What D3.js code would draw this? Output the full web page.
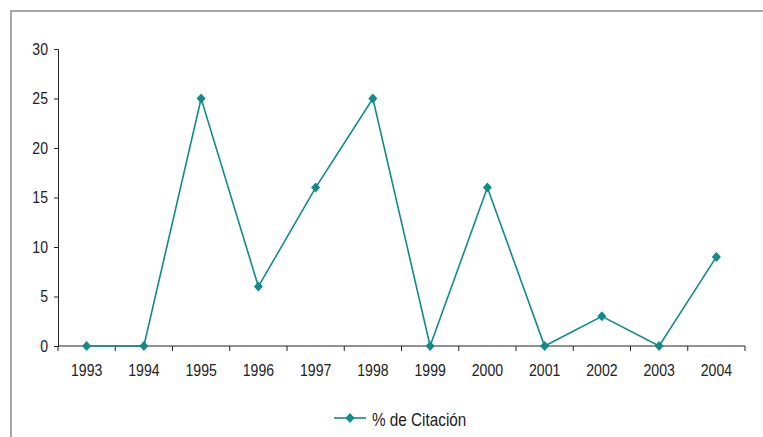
<!DOCTYPE html>
<html><head><meta charset="utf-8">
<script src="https://cdn.jsdelivr.net/npm/d3@7/dist/d3.min.js"></script>
<style>body{margin:0;background:#fff;}svg{display:block;font-family:"Liberation Sans",Arial,sans-serif;}</style>
</head><body>
<script>
const years = ["1993","1994","1995","1996","1997","1998","1999","2000","2001","2002","2003","2004"];
const values = [0,0,25,6,16,25,0,16,0,3,0,9];
const yTicks = [0,5,10,15,20,25,30];
const seriesName = "% de Citación";

const W = 763, H = 437;
const SX = 0.88;
const svg = d3.select("body").append("svg").attr("width", W).attr("height", H);
svg.append("rect").attr("x",11).attr("y",11).attr("width",W).attr("height",H)
  .attr("fill","none").attr("stroke","#8a8a8a").attr("stroke-width",1.5);

const color = "#118a8a";
const x = d3.scaleBand().domain(years).range([58, 745]);
const y = d3.scaleLinear().domain([0,30]).range([346, 49]);

// Y axis
const yAxis = svg.append("g").attr("transform","translate(58,0)")
  .call(d3.axisLeft(y).tickValues(yTicks).tickSize(4).tickFormat(""));
yAxis.selectAll("line,path").attr("stroke","#222");
svg.append("g").selectAll("g").data(yTicks).enter().append("g")
  .attr("transform",d=>`translate(48,${y(d)}) scale(${SX},1)`)
  .append("text").attr("text-anchor","end").attr("dy","0.36em")
  .attr("font-size",16).attr("fill","#222").text(d=>d);

// X axis
const xAxis = svg.append("g").attr("transform","translate(0,346)");
xAxis.append("path").attr("d", `M${x.range()[0]},0H${x.range()[1]}`).attr("stroke","#222");
const bounds = years.map(d=>x(d)).concat([x.range()[1]]);
xAxis.selectAll("line.t").data(bounds).enter().append("line")
  .attr("x1",d=>d).attr("x2",d=>d).attr("y1",0).attr("y2",5).attr("stroke","#222");
xAxis.selectAll("g.l").data(years).enter().append("g")
  .attr("transform",d=>`translate(${x(d)+x.bandwidth()/2},30) scale(${SX},1)`)
  .append("text").attr("text-anchor","middle")
  .attr("font-size",16).attr("fill","#222").text(d=>d);

const line = d3.line().x((d,i)=>x(years[i])+x.bandwidth()/2).y(d=>y(d));
svg.append("path").datum(values).attr("d",line).attr("fill","none")
  .attr("stroke",color).attr("stroke-width",1.6);

const diamond = "M0,-5L4.5,0L0,5L-4.5,0Z";
svg.selectAll("path.m").data(values).enter().append("path")
  .attr("d",diamond).attr("fill",color)
  .attr("transform",(d,i)=>`translate(${x(years[i])+x.bandwidth()/2},${y(d)})`);

const lg = svg.append("g").attr("transform","translate(334,418)");
lg.append("line").attr("x1",0).attr("x2",32).attr("stroke",color).attr("stroke-width",1.6);
lg.append("path").attr("d",diamond).attr("fill",color).attr("transform","translate(16,0)");
lg.append("g").attr("transform",`translate(38,8) scale(0.85,1)`)
  .append("text").attr("font-size",18).attr("fill","#222").text(seriesName);
</script>
</body></html>
